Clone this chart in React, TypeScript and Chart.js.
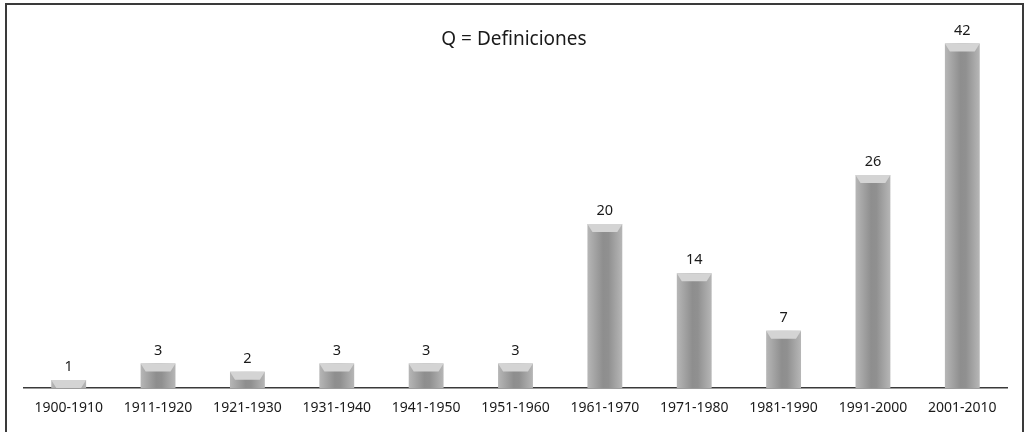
import React, { useEffect, useRef } from "react";
import { Chart, registerables } from "chart.js";

Chart.register(...registerables);

const categories = [
  "1900-1910", "1911-1920", "1921-1930", "1931-1940", "1941-1950", "1951-1960",
  "1961-1970", "1971-1980", "1981-1990", "1991-2000", "2001-2010",
];
const values = [1, 3, 2, 3, 3, 3, 20, 14, 7, 26, 42];
const titleText = "Q = Definiciones";
const yMax = 45;

const FONT = "'Noto Sans', sans-serif";

const framePlugin = {
  id: "frame",
  beforeDraw(chart: any) {
    const ctx = chart.ctx;
    ctx.save();
    ctx.fillStyle = "#ffffff";
    ctx.fillRect(0, 0, chart.width, chart.height);
    ctx.strokeStyle = "#3a3a3a";
    ctx.lineWidth = 2;
    ctx.strokeRect(6, 4, chart.width - 6 - 3, chart.height + 20);
    ctx.restore();
  },
};

const decoPlugin = {
  id: "deco",
  afterDatasetsDraw(chart: any) {
    const ctx = chart.ctx;
    const meta = chart.getDatasetMeta(0);
    ctx.save();
    meta.data.forEach((bar: any, i: number) => {
      const { x, y, width, base } = bar.getProps(["x", "y", "width", "base"], true);
      const l = x - width / 2;
      const r = x + width / 2;
      const capH = Math.min(8, base - y);
      const inset = 5;
      ctx.fillStyle = "#d4d4d4";
      ctx.beginPath();
      ctx.moveTo(l, y);
      ctx.lineTo(r, y);
      ctx.lineTo(r - inset, y + capH);
      ctx.lineTo(l + inset, y + capH);
      ctx.closePath();
      ctx.fill();
      ctx.fillStyle = "#1a1a1a";
      ctx.font = `14.5px ${FONT}`;
      ctx.textAlign = "center";
      ctx.textBaseline = "middle";
      ctx.fillText(String(values[i]), x, y - 13);
    });
    ctx.fillStyle = "#1a1a1a";
    ctx.font = `19px ${FONT}`;
    ctx.textAlign = "center";
    ctx.textBaseline = "middle";
    ctx.fillText(titleText, 514, 40);
    ctx.restore();
  },
};

export default function App() {
  const ref = useRef<HTMLCanvasElement>(null);
  useEffect(() => {
    document.body.style.margin = "0";
    const canvas = ref.current!;
    const chart = new Chart(canvas, {
      type: "bar",
      data: {
        labels: categories,
        datasets: [
          {
            data: values,
            barPercentage: 0.39,
            categoryPercentage: 1,
            borderWidth: 0,
            backgroundColor: (c: any) => {
              const ch = c.chart;
              const xs = ch.scales && ch.scales.x;
              if (!xs || c.dataIndex === undefined) return "#a0a0a0";
              const cx = xs.getPixelForTick(c.dataIndex);
              const hw = 18;
              const g = ch.ctx.createLinearGradient(cx - hw, 0, cx + hw, 0);
              g.addColorStop(0, "#b8b8b8");
              g.addColorStop(0.45, "#8e8e8e");
              g.addColorStop(0.6, "#909090");
              g.addColorStop(1, "#b8b8b8");
              return g;
            },
          },
        ],
      },
      options: {
        responsive: false,
        animation: false,
        layout: { padding: { top: 19, left: 24, right: 19, bottom: 5 } },
        plugins: {
          legend: { display: false },
          tooltip: { enabled: false },
          title: { display: false },
        },
        scales: {
          x: {
            grid: { display: false, drawTicks: false },
            border: { display: true, color: "#3a3a3a", width: 1.5 },
            ticks: {
              color: "#1a1a1a",
              font: { family: "'Noto Sans', sans-serif", size: 14 },
              padding: 11,
              maxRotation: 0,
              autoSkip: false,
            },
          },
          y: {
            display: false,
            min: 0,
            max: yMax,
          },
        },
      },
      plugins: [framePlugin, decoPlugin],
    });
    return () => chart.destroy();
  }, []);
  return <canvas ref={ref} width={1026} height={432} style={{ display: "block" }} />;
}
